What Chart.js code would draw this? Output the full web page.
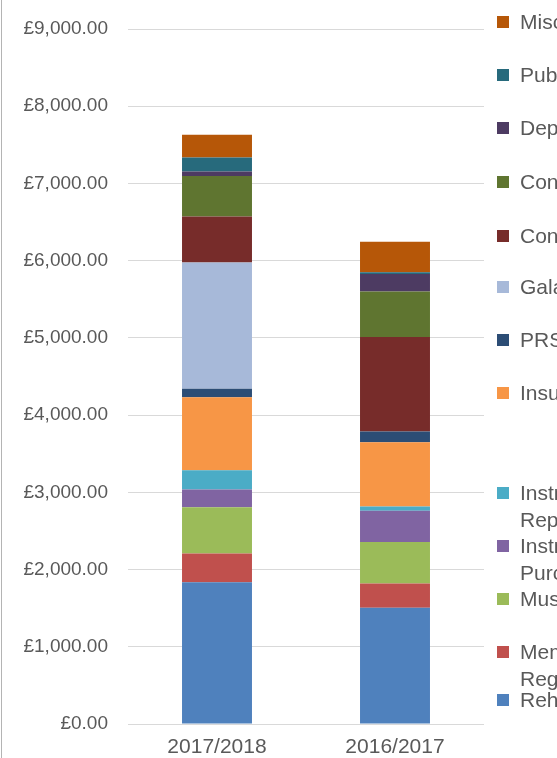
<!DOCTYPE html>
<html><head><meta charset="utf-8">
<script src="https://cdn.jsdelivr.net/npm/chart.js@4.4.0/dist/chart.umd.min.js"></script>
<style>
html,body{margin:0;padding:0;background:#fff;overflow:hidden;}
#wrap{position:relative;width:557px;height:758px;}
#edge{position:absolute;left:1px;top:0;width:1px;height:758px;background:#b4b4b4;}
canvas{position:absolute;left:0;top:0;}
</style></head><body>
<div id="wrap"><canvas id="c" width="557" height="758"></canvas><div id="edge"></div></div>
<script>
// ---- data ----
const categories = ['2017/2018', '2016/2017'];
const yTicks = [0, 1000, 2000, 3000, 4000, 5000, 6000, 7000, 8000, 9000];
const rehearsal      = [1835, 1505];
const membershipReg  = [372, 315];
const music          = [600, 537];
const instPurchase   = [230, 404];
const instRepairs    = [248, 56];
const insurance      = [945, 830];
const prs            = [112, 140];
const gala           = [1635, 0];
const concertCosts   = [595, 1225];
const concertOther   = [525, 590];
const deps           = [58, 225];
const publicity      = [180, 22];
const misc           = [295, 395];
const seriesLabels = [
  ['Rehearsal Room Hire'],
  ['Membership', 'Registration'],
  ['Music'],
  ['Instrument', 'Purchase'],
  ['Instrument', 'Repairs'],
  ['Insurance'],
  ['PRS'],
  ['Gala'],
  ['Concert Costs'],
  ['Concert Hire'],
  ['Deps'],
  ['Publicity'],
  ['Miscellaneous']
];
const seriesValues = [rehearsal, membershipReg, music, instPurchase, instRepairs, insurance, prs, gala, concertCosts, concertOther, deps, publicity, misc];
const seriesColors = ['#4F81BD','#C0504D','#9BBB59','#8064A2','#4BACC6','#F79646','#2C4D75','#A7B9D9','#772C2A','#5F7530','#4D3B62','#276A7C','#B65708'];

// ---- layout (legend rows, top to bottom) ----
const legendRowY = [22, 75, 128, 182, 236, 287, 340, 393, 493, 546, 599, 652, 700];
const legendLineGap = 27;
const FONT = '"Liberation Sans", Arial, sans-serif';
const TEXT = '#595959';

const legendPlugin = {
  id: 'excelLegend',
  afterDraw(chart) {
    const ctx = chart.ctx;
    const ds = chart.data.datasets;
    ctx.save();
    ctx.font = '21px ' + FONT;
    ctx.textBaseline = 'middle';
    ctx.textAlign = 'left';
    for (let k = 0; k < ds.length; k++) {
      const d = ds[ds.length - 1 - k];
      const y = legendRowY[k];
      ctx.fillStyle = d.backgroundColor;
      ctx.fillRect(497, y - 6, 12, 12);
      ctx.fillStyle = TEXT;
      d.legendLines.forEach((t, i) => ctx.fillText(t, 520, y + 1 + i * legendLineGap));
    }
    ctx.restore();
  }
};

new Chart(document.getElementById('c'), {
  type: 'bar',
  data: {
    labels: categories,
    datasets: seriesValues.map((v, i) => ({
      label: seriesLabels[i].join(' '),
      legendLines: seriesLabels[i],
      data: v,
      backgroundColor: seriesColors[i],
      borderWidth: 0,
      stack: 's',
      barPercentage: 0.393,
      categoryPercentage: 1.0
    }))
  },
  options: {
    responsive: false,
    animation: false,
    devicePixelRatio: 1,
    layout: { padding: { top: 29, right: 73, left: 0, bottom: 0 } },
    plugins: { legend: { display: false }, tooltip: { enabled: false } },
    scales: {
      x: {
        stacked: true,
        grid: { display: false, drawTicks: false },
        border: { display: false },
        ticks: { color: TEXT, font: { family: FONT, size: 21 }, padding: 11 },
        afterFit(s) { s.height = 34; s.paddingLeft = 0; s.paddingRight = 0; }
      },
      y: {
        stacked: true,
        min: 0, max: 9000,
        afterBuildTicks(s) { s.ticks = yTicks.map(v => ({ value: v })); },
        grid: { color: '#d9d9d9', drawTicks: false, lineWidth: 1 },
        border: { display: false },
        ticks: {
          color: TEXT, font: { family: FONT, size: 19 }, padding: 20,
          callback: v => '£' + v.toLocaleString('en-GB', { minimumFractionDigits: 2, maximumFractionDigits: 2 })
        },
        afterFit(s) { s.width = 128; s.paddingTop = 0; s.paddingBottom = 0; }
      }
    }
  },
  plugins: [legendPlugin]
});
</script>
</body></html>
